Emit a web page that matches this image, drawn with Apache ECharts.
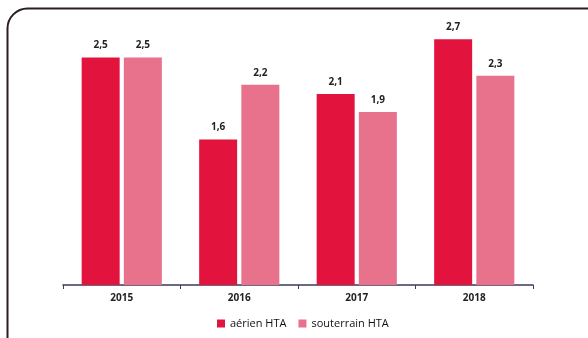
<!DOCTYPE html>
<html>
<head>
<meta charset="utf-8">
<script src="https://cdn.jsdelivr.net/npm/echarts@6/dist/echarts.min.js"></script>
<style>html,body{margin:0;padding:0;background:#fff}#c{width:588px;height:338px}</style>
</head>
<body>
<div id="c"></div>
<script>
var categories = ['2015', '2016', '2017', '2018'];
var aerien = [2.5, 1.6, 2.1, 2.7];
var souterrain = [2.5, 2.2, 1.9, 2.3];
var seriesNames = ['aérien HTA', 'souterrain HTA'];

var chart = echarts.init(document.getElementById('c'), null, {renderer: 'canvas'});
var fmt = function (p) { return String(p.value).replace('.', ','); };
var labelStyle = {show: true, position: 'top', distance: 7, formatter: fmt, fontFamily: 'Open Sans', fontWeight: 'bold', fontSize: 10, color: '#222'};
chart.setOption({
  animation: false,
  backgroundColor: '#fff',
  graphic: [{
    type: 'rect', left: 5, top: 6, silent: true,
    shape: {width: 620, height: 400, r: [20, 0, 0, 0]},
    style: {fill: 'none', stroke: '#2a2020', lineWidth: 2}
  }],
  grid: {left: 63, right: 55, top: 12, bottom: 53},
  legend: {
    data: seriesNames, bottom: 4, left: 212,
    itemWidth: 8, itemHeight: 8, itemGap: 12, icon: 'rect',
    textStyle: {fontFamily: 'Open Sans', fontSize: 11, color: '#111'}
  },
  xAxis: {
    type: 'category', data: categories,
    axisLine: {lineStyle: {color: '#3a3a5a', width: 1.5}},
    axisTick: {show: true, length: 4, inside: false, lineStyle: {color: '#3a3a5a'}},
    axisLabel: {fontFamily: 'Open Sans', fontWeight: 'bold', fontSize: 10, color: '#222', margin: 8}
  },
  yAxis: {type: 'value', min: 0, max: 3, show: false, splitLine: {show: false}},
  series: [
    {name: seriesNames[0], type: 'bar', data: aerien, barWidth: 38, barGap: '11%', itemStyle: {color: '#e2143e'}, label: labelStyle},
    {name: seriesNames[1], type: 'bar', data: souterrain, barWidth: 38, barGap: '11%', itemStyle: {color: '#e8718b'}, label: labelStyle}
  ]
});
</script>
</body>
</html>
